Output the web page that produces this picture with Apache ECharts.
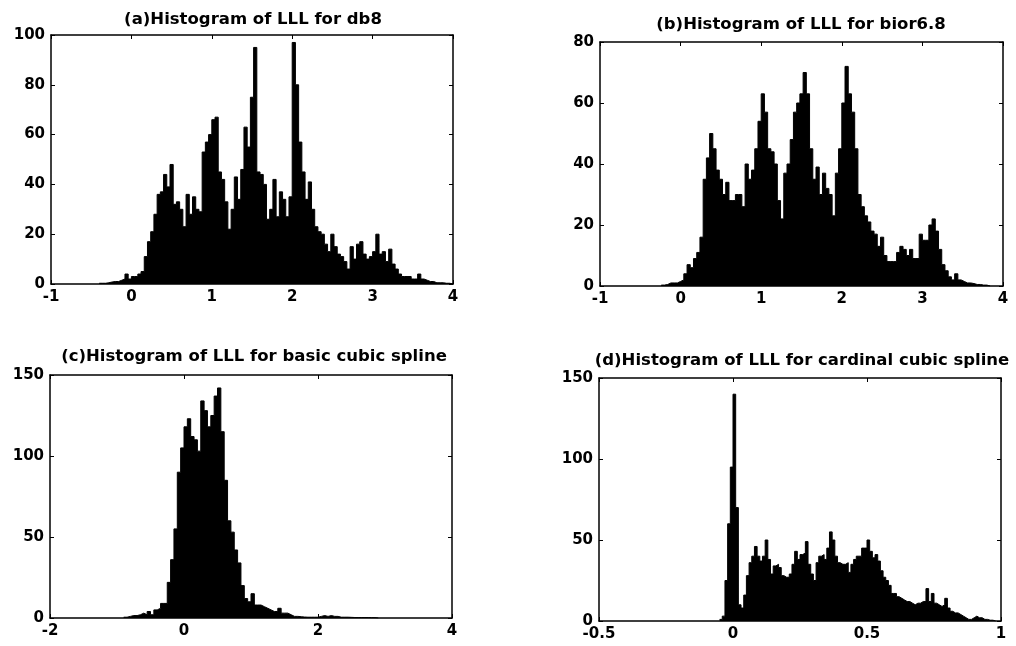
<!DOCTYPE html>
<html>
<head>
<meta charset="utf-8">
<script src="https://cdn.jsdelivr.net/npm/echarts@6/dist/echarts.min.js"></script>
<style>
  html, body { margin: 0; padding: 0; background: #fff; }
  #chart { width: 1016px; height: 646px; }
</style>
</head>
<body>
<div id="chart"></div>
<script>
// panel titles
const titles = [
  "(a)Histogram of LLL for db8",
  "(b)Histogram of LLL for bior6.8",
  "(c)Histogram of LLL for basic cubic spline",
  "(d)Histogram of LLL for cardinal cubic spline",
];

// (a) db8 : bins of 0.04 starting at -0.40
const startA = -0.40;
const widthA = 0.04;
const countsA = [
  0.3, 0.3, 0.5, 0.8, 1, 1, 1.5, 2, 4, 2,
  3, 3, 4, 5, 11, 17, 21, 28, 36, 37,
  44, 39, 48, 32, 33, 30, 23, 36, 28, 35,
  30, 29, 53, 57, 60, 66, 67, 45, 42, 33,
  22, 30, 43, 34, 46, 63, 55, 75, 95, 45,
  44, 40, 26, 30, 42, 27, 37, 34, 27, 35,
  97, 80, 57, 45, 34, 41, 30, 23, 21, 20,
  16, 13, 20, 15, 12, 11, 9, 6, 15, 10,
  16, 17, 12, 10, 11, 13, 20, 12, 13, 9,
  14, 8, 6, 4, 3, 3, 3, 2, 2, 4,
  2, 1.5, 1, 1, 0.5, 0.5, 0.5, 0.3, 0.3, 0,
];

// (b) bior6.8 : bins of 0.04 starting at -0.24
const startB = -0.24;
const widthB = 0.04;
const countsB = [
  0.3, 0.5, 1, 1, 1, 1.5, 2, 4, 7, 6,
  9, 11, 16, 35, 42, 50, 45, 38, 35, 30,
  34, 28, 28, 30, 30, 26, 40, 35, 38, 45,
  54, 63, 57, 45, 44, 40, 28, 22, 37, 40,
  48, 57, 60, 63, 70, 63, 45, 35, 39, 30,
  37, 32, 30, 23, 37, 45, 60, 72, 63, 57,
  45, 30, 26, 23, 21, 18, 17, 13, 16, 10,
  8, 8, 8, 11, 13, 12, 10, 12, 9, 9,
  17, 15, 15, 20, 22, 18, 12, 7, 5, 3,
  2, 4, 2, 1.5, 1, 1, 0.8, 0.5, 0.5, 0.3,
  0.3, 0,
];

// (c) basic cubic spline : bins of 0.05 starting at -0.90
const startC = -0.90;
const widthC = 0.05;
const countsC = [
  0.5, 1, 1.5, 1.5, 2, 3, 2, 4, 2, 5,
  6, 9, 9, 22, 36, 55, 90, 105, 118, 123,
  112, 110, 103, 134, 128, 118, 125, 137, 142, 115,
  85, 60, 53, 42, 34, 20, 12, 10, 15, 8,
  8, 7, 6, 5, 4, 4, 6, 3, 3, 2,
  1, 1, 0.8, 0.6, 0.5, 0.5, 0.5, 0.5, 1, 1.5,
  1, 1.5, 1, 1, 0.5, 0.5, 0.5, 0.4, 0.3, 0.3,
  0.3, 0.3, 0.3, 0.2, 0.2, 0,
];

// (d) cardinal cubic spline : bins of 0.01 starting at -0.05
const startD = -0.05;
const widthD = 0.01;
const countsD = [
  1, 3, 25, 60, 95, 140, 70, 10, 8, 16,
  28, 36, 40, 46, 40, 37, 40, 50, 38, 29,
  34, 35, 33, 28, 27, 27, 29, 35, 43, 38,
  41, 42, 49, 35, 29, 25, 36, 40, 41, 38,
  45, 55, 50, 40, 36, 35, 35, 36, 30, 35,
  38, 40, 40, 45, 45, 50, 43, 39, 41, 37,
  31, 27, 25, 22, 17, 17, 15, 14, 13, 12,
  12, 11, 10, 11, 11, 12, 12, 20, 12, 17,
  11, 10, 9, 10, 14, 8, 6, 5, 5, 4,
  3, 2, 1, 1, 2, 3, 2, 2, 1, 1,
  0.5, 0.5, 0,
];

// axis ranges: [min, max, interval]
const xRanges = [[-1, 4, 1], [-1, 4, 1], [-2, 4, 2], [-0.5, 1, 0.5]];
const yRanges = [[0, 100, 20], [0, 80, 20], [0, 150, 50], [0, 150, 50]];

const hists = [
  [startA, widthA, countsA],
  [startB, widthB, countsB],
  [startC, widthC, countsC],
  [startD, widthD, countsD],
];

const grids = [
  { left: 51, top: 35, width: 402, height: 249 },
  { left: 600, top: 42, width: 403, height: 244 },
  { left: 50, top: 375, width: 402, height: 243 },
  { left: 599, top: 378, width: 402, height: 243 },
];
const titlePos = [[253, 11], [801, 16], [254, 348], [802, 352]];

function histPoints(start, width, counts) {
  const pts = counts.map((c, i) => [+(start + i * width).toFixed(4), c]);
  pts.push([+(start + counts.length * width).toFixed(4), 0]);
  return pts;
}

const black = "#000";
const labelFont = { color: black, fontFamily: "DejaVu Sans", fontWeight: "bold", fontSize: 15 };

function axis(range, gridIndex, position, withLabels) {
  return {
    type: "value",
    gridIndex: gridIndex,
    position: position,
    min: range[0],
    max: range[1],
    interval: range[2],
    axisLine: { show: true, onZero: false, lineStyle: { color: black, width: 1.5 } },
    axisTick: { show: true, inside: true, length: 4, lineStyle: { color: black, width: 1 } },
    axisLabel: Object.assign({ show: withLabels, margin: 6 }, labelFont),
    splitLine: { show: false },
  };
}

const xAxes = [];
const yAxes = [];
for (let i = 0; i < 4; i++) {
  xAxes.push(axis(xRanges[i], i, "bottom", true));
  yAxes.push(axis(yRanges[i], i, "left", true));
}
for (let i = 0; i < 4; i++) {
  xAxes.push(axis(xRanges[i], i, "top", false));
  yAxes.push(axis(yRanges[i], i, "right", false));
}

const chart = echarts.init(document.getElementById("chart"), null, { renderer: "canvas" });
chart.setOption({
  animation: false,
  backgroundColor: "#fff",
  title: titles.map((t, i) => ({
    text: t,
    left: titlePos[i][0],
    top: titlePos[i][1],
    textAlign: "center",
    padding: 0,
    textStyle: { color: black, fontFamily: "DejaVu Sans", fontWeight: "bold", fontSize: 16.5 },
  })),
  grid: grids,
  xAxis: xAxes,
  yAxis: yAxes,
  series: hists.map((h, i) => ({
    type: "line",
    step: "end",
    xAxisIndex: i,
    yAxisIndex: i,
    symbol: "none",
    data: histPoints(h[0], h[1], h[2]),
    lineStyle: { color: black, width: 1 },
    areaStyle: { color: black, opacity: 1 },
  })),
});
</script>
</body>
</html>
